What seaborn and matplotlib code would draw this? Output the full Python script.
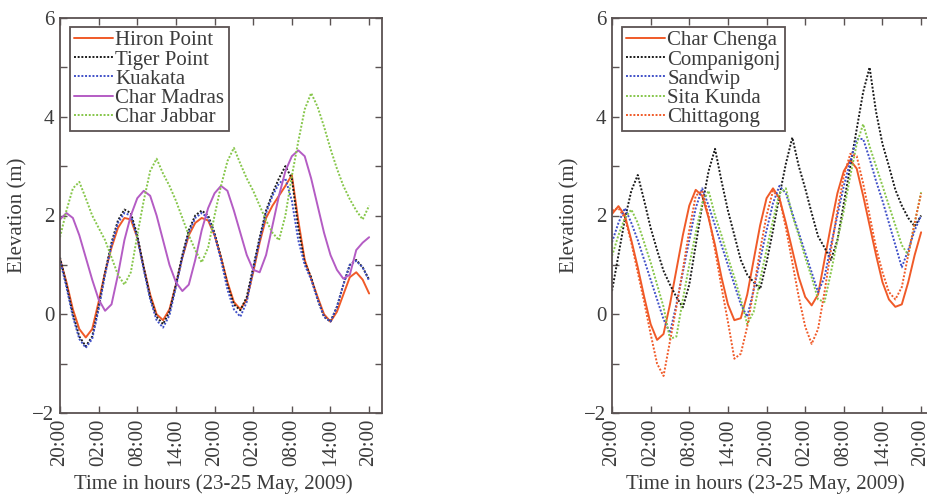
"""
Water level at coastal stations, 23-25 May 2009
"""
import pandas as pd
import seaborn as sns
import matplotlib.pyplot as plt

# hours since 20:00 on 23 May
hours = list(range(49))
tick_hours = [0, 6, 12, 18, 24, 30, 36, 42, 48]
tick_labels = ['20:00', '02:00', '08:00', '14:00', '20:00', '02:00', '08:00', '14:00', '20:00']

# left panel (elevation in m, read hourly)
hiron_point = [1.12, 0.65, 0.1, -0.3, -0.47, -0.3, 0.25, 0.85, 1.35, 1.75, 1.95, 1.92, 1.55, 0.95, 0.4, 0.0,
               -0.12, 0.1, 0.6, 1.15, 1.6, 1.85, 1.95, 1.9, 1.6, 1.15, 0.65, 0.25, 0.1, 0.3, 0.85, 1.45,
               1.95, 2.2, 2.4, 2.6, 2.82, 1.9, 1.1, 0.72, 0.35, 0.0, -0.15, 0.05, 0.4, 0.75, 0.85, 0.7, 0.42]
tiger_point = [1.15, 0.6, 0.0, -0.45, -0.65, -0.45, 0.15, 0.85, 1.45, 1.9, 2.12, 2.05, 1.6, 0.95, 0.35, -0.05,
               -0.2, 0.05, 0.6, 1.2, 1.7, 2.0, 2.1, 2.0, 1.65, 1.15, 0.6, 0.2, 0.08, 0.35, 0.95, 1.55,
               2.1, 2.45, 2.75, 3.0, 2.75, 1.75, 1.05, 0.75, 0.3, -0.05, -0.15, 0.15, 0.6, 1.0, 1.1, 0.95, 0.7]
kuakata = [1.1, 0.55, -0.05, -0.5, -0.68, -0.5, 0.1, 0.8, 1.4, 1.85, 2.05, 2.0, 1.55, 0.9, 0.3, -0.12,
           -0.27, -0.02, 0.55, 1.15, 1.65, 1.95, 2.05, 1.95, 1.6, 1.1, 0.5, 0.1, -0.05, 0.25, 0.9, 1.5,
           2.05, 2.4, 2.65, 2.75, 2.3, 1.5, 1.0, 0.7, 0.3, -0.05, -0.15, 0.15, 0.6, 1.0, 1.08, 0.95, 0.68]
char_madras = [1.92, 2.05, 1.95, 1.6, 1.15, 0.7, 0.3, 0.07, 0.2, 0.8, 1.5, 2.0, 2.35, 2.5, 2.4, 2.0,
               1.5, 1.0, 0.65, 0.47, 0.6, 1.1, 1.7, 2.15, 2.45, 2.6, 2.5, 2.1, 1.65, 1.2, 0.9, 0.85,
               1.2, 1.8, 2.4, 2.9, 3.2, 3.32, 3.2, 2.75, 2.2, 1.65, 1.2, 0.9, 0.72, 0.8, 1.3, 1.45, 1.56]
char_jabbar = [1.56, 2.1, 2.55, 2.68, 2.35, 2.0, 1.75, 1.5, 1.15, 0.8, 0.6, 0.85, 1.6, 2.3, 2.9, 3.15,
               2.85, 2.6, 2.3, 1.95, 1.6, 1.3, 1.05, 1.35, 2.0, 2.6, 3.1, 3.37, 3.05, 2.75, 2.5, 2.2,
               1.9, 1.65, 1.5, 2.0, 2.8, 3.5, 4.15, 4.48, 4.2, 3.8, 3.35, 2.95, 2.6, 2.33, 2.1, 1.92, 2.2]

# right panel
char_chenga = [2.03, 2.19, 2.0, 1.5, 0.95, 0.35, -0.2, -0.52, -0.4, 0.2, 0.9, 1.6, 2.2, 2.52, 2.4, 1.95,
               1.4, 0.75, 0.2, -0.12, -0.08, 0.4, 1.1, 1.8, 2.35, 2.55, 2.35, 1.85, 1.3, 0.75, 0.35, 0.18,
               0.4, 1.1, 1.8, 2.45, 2.9, 3.12, 2.95, 2.4, 1.8, 1.2, 0.65, 0.3, 0.15, 0.2, 0.65, 1.2, 1.66]
companigonj = [0.47, 1.2, 1.93, 2.5, 2.82, 2.3, 1.75, 1.3, 0.88, 0.6, 0.35, 0.14, 0.6, 1.4, 2.2, 2.9,
               3.35, 2.7, 2.1, 1.6, 1.1, 0.8, 0.65, 0.51, 1.05, 1.7, 2.4, 3.05, 3.58, 3.0, 2.55, 2.05,
               1.58, 1.35, 1.1, 1.5, 2.25, 3.0, 3.75, 4.5, 5.0, 4.1, 3.45, 3.0, 2.52, 2.2, 1.95, 1.78, 2.0]
sandwip = [1.46, 1.85, 2.15, 1.85, 1.5, 1.1, 0.7, 0.3, -0.1, -0.38, 0.2, 0.85, 1.5, 2.15, 2.55, 2.2,
           1.8, 1.4, 1.0, 0.6, 0.2, -0.05, 0.5, 1.1, 1.7, 2.25, 2.6, 2.45, 2.05, 1.65, 1.25, 0.85,
           0.45, 0.75, 1.4, 2.0, 2.6, 3.1, 3.55, 3.55, 3.15, 2.7, 2.3, 1.85, 1.4, 0.95, 1.3, 1.7, 2.0]
sita_kunda = [1.18, 1.6, 1.95, 2.12, 1.85, 1.45, 1.05, 0.6, 0.15, -0.5, -0.45, 0.3, 1.0, 1.65, 2.25, 2.5,
              2.0, 1.6, 1.15, 0.75, 0.3, -0.2, 0.05, 0.7, 1.3, 1.9, 2.45, 2.55, 2.0, 1.6, 1.15, 0.75,
              0.3, 0.25, 0.85, 1.5, 2.1, 2.8, 3.45, 3.85, 3.4, 3.0, 2.6, 2.2, 1.8, 1.4, 1.2, 1.85, 2.47]
chittagong = [2.1, 2.15, 1.95, 1.45, 0.85, 0.25, -0.4, -1.0, -1.25, -0.55, 0.15, 0.9, 1.7, 2.4, 2.5, 2.0,
              1.3, 0.55, -0.15, -0.9, -0.8, -0.25, 0.5, 1.3, 2.0, 2.5, 2.35, 1.75, 1.05, 0.35, -0.25, -0.6,
              -0.3, 0.45, 1.3, 2.1, 2.8, 3.25, 3.2, 2.65, 2.0, 1.35, 0.85, 0.45, 0.3, 0.55, 1.2, 1.85, 2.45]

RED = '#f05a28'
BLACK = '#1a1a1a'
BLUE = '#4050c8'
PURPLE = '#b45cc4'
GREEN = '#86c64a'
DOT = (0, (1, 0.9))

left_series = [
    ('Hiron Point', hiron_point, RED, '-'),
    ('Tiger Point', tiger_point, BLACK, DOT),
    ('Kuakata', kuakata, BLUE, DOT),
    ('Char Madras', char_madras, PURPLE, '-'),
    ('Char Jabbar', char_jabbar, GREEN, DOT),
]
right_series = [
    ('Char Chenga', char_chenga, RED, '-'),
    ('Companigonj', companigonj, BLACK, DOT),
    ('Sandwip', sandwip, BLUE, DOT),
    ('Sita Kunda', sita_kunda, GREEN, DOT),
    ('Chittagong', chittagong, RED, DOT),
]

sns.set_style('ticks')
plt.rcParams['font.family'] = ['Liberation Serif', 'DejaVu Serif']
FS = 15

EDGE = '#5a5252'
TXT = '#3c3c3c'

fig = plt.figure(figsize=(9.28, 4.95), dpi=100)
ax_left = fig.add_axes([60 / 928, 82 / 495, 322 / 928, 395 / 495])
ax_right = fig.add_axes([612 / 928, 82 / 495, 322 / 928, 395 / 495])


def draw_panel(ax, series):
    for name, values, color, ls in series:
        df = pd.DataFrame({'hours': hours, 'elev': values})
        sns.lineplot(data=df, x='hours', y='elev', ax=ax, color=color,
                     linestyle=ls, linewidth=1.4, label=name)

    ax.set_xlim(0, 50)
    ax.set_ylim(-2, 6)
    ax.set_xticks(tick_hours)
    ax.set_xticklabels(tick_labels, rotation=90)
    ax.set_yticks(range(-2, 7))
    ax.set_yticklabels([str(v).replace('-', '\u2212') if v % 2 == 0 else '' for v in range(-2, 7)])
    ax.tick_params(direction='in', length=5, width=1, colors=EDGE, labelcolor=TXT,
                   top=True, right=True, labelsize=FS, pad=4)
    for sp in ax.spines.values():
        sp.set_color(EDGE)
        sp.set_linewidth(1.3)
    ax.set_xlabel('Time in hours (23-25 May, 2009)', color=TXT, fontsize=FS)
    ax.set_ylabel('Elevation (m)', color=TXT, fontsize=FS)
    ax.xaxis.set_label_coords(0.475, -0.155)
    ax.yaxis.set_label_coords(-0.1, 0.5)

    leg = ax.legend(loc='upper left', bbox_to_anchor=(0.03, 0.978), fontsize=FS,
                    handlelength=1.9, handletextpad=0.1, labelspacing=-0.02,
                    borderpad=0.2, borderaxespad=0.0, fancybox=False, framealpha=1)
    leg.get_frame().set_edgecolor(EDGE)
    leg.get_frame().set_linewidth(1.3)
    for t in leg.get_texts():
        t.set_color(TXT)


draw_panel(ax_left, left_series)
draw_panel(ax_right, right_series)

fig.savefig('out.png', dpi=100)
